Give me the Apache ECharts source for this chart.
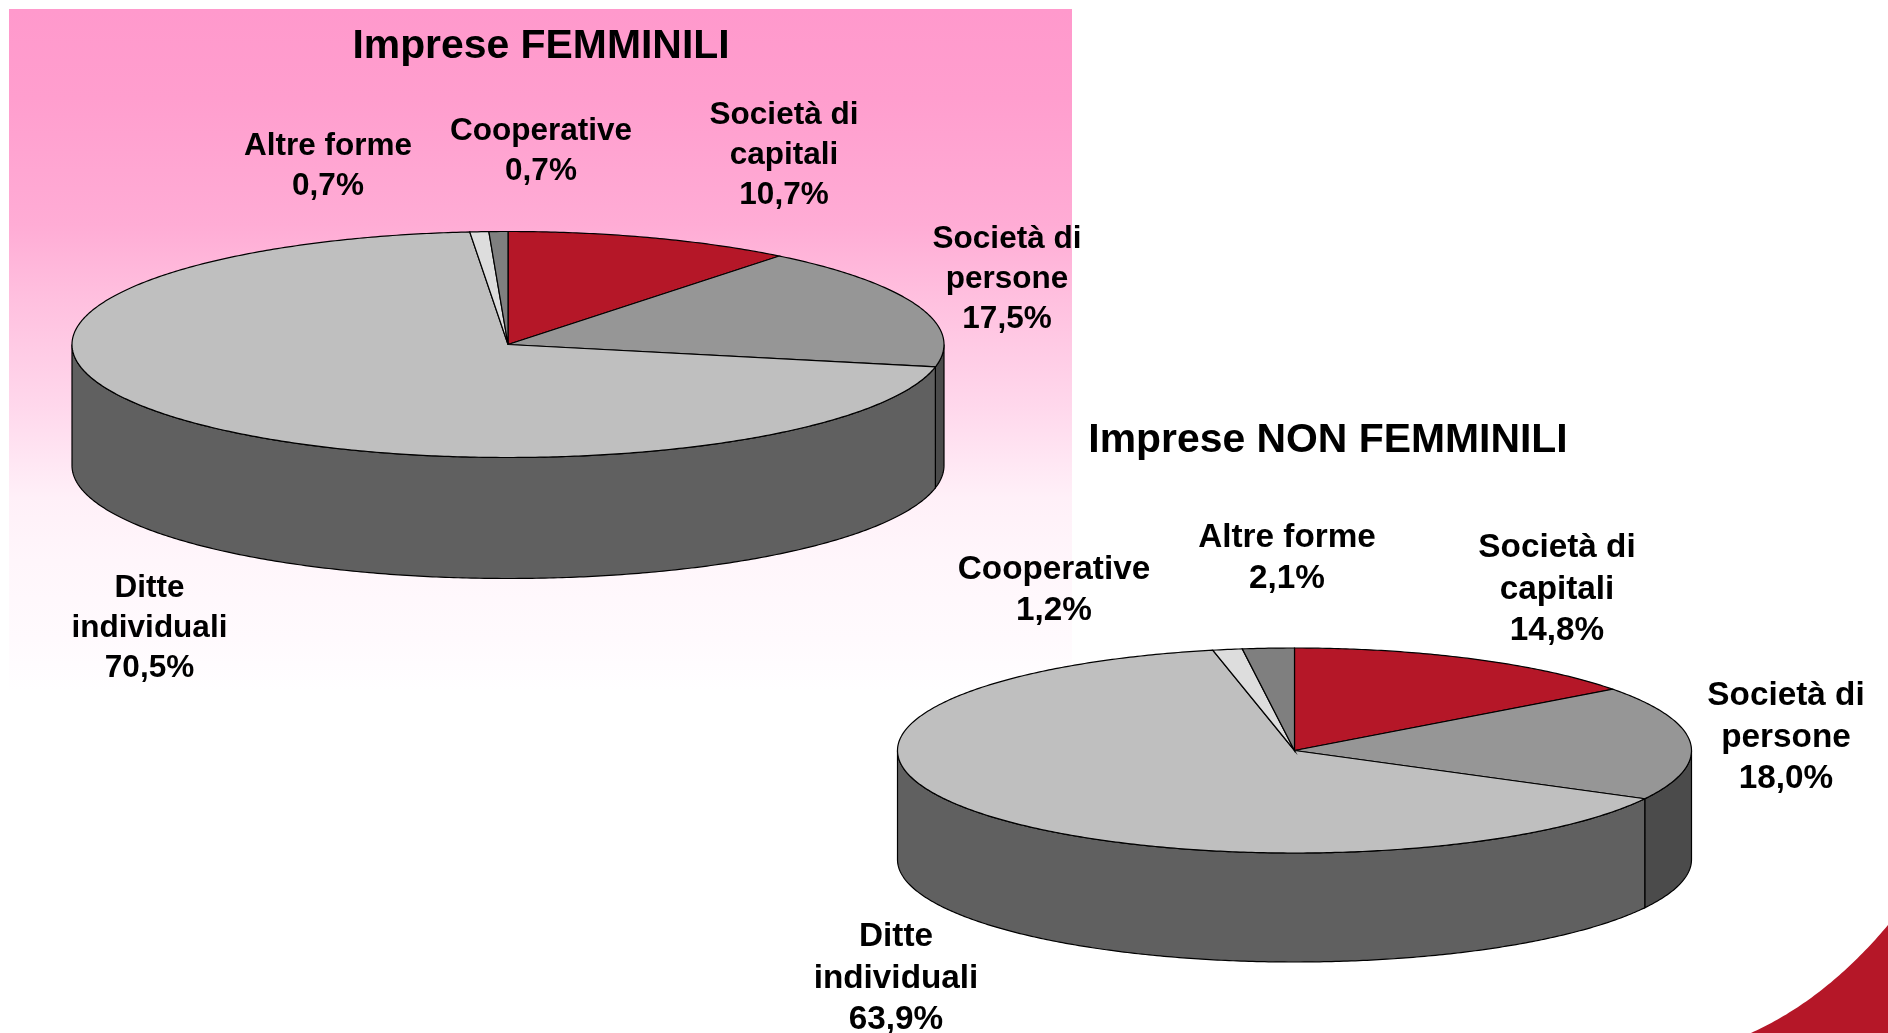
<!DOCTYPE html>
<html>
<head>
<meta charset="utf-8">
<title>Imprese femminili e non femminili</title>
<style>
  html, body { margin: 0; padding: 0; background: #fff; }
  #chart { width: 1888px; height: 1033px; }
</style>
<script src="https://cdn.jsdelivr.net/npm/echarts@6/dist/echarts.min.js"></script>
</head>
<body>
<div id="chart"></div>
<script>
// values, clockwise from 12 o'clock
const categories = ["Società di\ncapitali", "Società di\npersone", "Ditte\nindividuali", "Cooperative", "Altre forme"];
const valuesFemminili = [10.7, 17.5, 70.5, 0.7, 0.7];
const valuesNonFemminili = [14.8, 18.0, 63.9, 1.2, 2.1];
const titles = ["Imprese FEMMINILI", "Imprese NON FEMMINILI"];

const topColors = ["#B51728", "#969696", "#BFBFBF", "#DDDDDD", "#7F7F7F"];
const sideColors = ["#7A0F1B", "#4B4B4B", "#606060", "#8F8F8F", "#505050"];

// label centres, same order as categories
const labelsFemminili = [[784, 155.5], [1007, 279.5], [149.5, 628.5], [541, 151], [328, 166.5]];
const labelsNonFemminili = [[1557, 589.5], [1786, 737.5], [896, 978.5], [1054, 590.5], [1287, 558.5]];

const pieFemminili = { cx: 508, cy: 344.5, rx: 436, ry: 113, depth: 121, fontSize: 31.5, lineHeight: 40 };
const pieNonFemminili = { cx: 1294.5, cy: 750.5, rx: 397, ry: 102.5, depth: 109, fontSize: 33.3, lineHeight: 41.5 };

const chart = echarts.init(document.getElementById("chart"));

// angle in radians from 12 o'clock, clockwise
function pt(pie, a, down) {
  return [pie.cx + pie.rx * Math.sin(a), pie.cy - pie.ry * Math.cos(a) + (down || 0)];
}

function arc(pie, a0, a1, down) {
  const n = Math.max(2, Math.ceil(Math.abs(a1 - a0) / 0.01));
  const out = [];
  for (let i = 0; i <= n; i++) {
    out.push(pt(pie, a0 + (a1 - a0) * i / n, down));
  }
  return out;
}

function makeRenderItem(values, pie, labelPos) {
  const total = values.reduce((s, v) => s + v, 0);
  return function (params, api) {
    const i = params.dataIndex;
    let before = 0;
    for (let k = 0; k < i; k++) before += values[k];
    const a0 = before / total * Math.PI * 2;
    const a1 = (before + api.value(0)) / total * Math.PI * 2;
    const children = [];

    // front wall, only the part between 3 and 9 o'clock shows
    const s0 = Math.max(a0, Math.PI / 2);
    const s1 = Math.min(a1, Math.PI * 1.5);
    if (s1 > s0) {
      children.push({
        type: "polygon",
        shape: { points: arc(pie, s0, s1, 0).concat(arc(pie, s1, s0, pie.depth)) },
        style: { fill: sideColors[i], stroke: "#000", lineWidth: 1.2 }
      });
    }

    children.push({
      type: "polygon",
      z2: 5,
      shape: { points: [[pie.cx, pie.cy]].concat(arc(pie, a0, a1, 0)) },
      style: { fill: topColors[i], stroke: "#000", lineWidth: 1.2 }
    });

    children.push({
      type: "text",
      z2: 10,
      style: {
        text: categories[i] + "\n" + api.value(0).toFixed(1).replace(".", ",") + "%",
        x: labelPos[i][0],
        y: labelPos[i][1],
        align: "center",
        verticalAlign: "middle",
        fill: "#000",
        fontFamily: "Liberation Sans",
        fontWeight: "bold",
        fontSize: pie.fontSize,
        lineHeight: pie.lineHeight
      }
    });
    return { type: "group", children: children };
  };
}

// red corner of the slide
const cornerPoints = [];
for (let t = 0; t <= 1.0001; t += 0.02) {
  const u = 1 - t;
  cornerPoints.push([u * u * 1751 + 2 * u * t * 1826 + t * t * 1888, u * u * 1033 + 2 * u * t * 999 + t * t * 925]);
}
cornerPoints.push([1888, 1033]);

chart.setOption({
  animation: false,
  backgroundColor: "#fff",
  title: [
    { text: titles[0], left: 541, top: 26.5, textAlign: "center", padding: 0, textStyle: { fontFamily: "Liberation Sans", fontWeight: "bold", fontSize: 40.9, color: "#000" } },
    { text: titles[1], left: 1328, top: 420.5, textAlign: "center", padding: 0, textStyle: { fontFamily: "Liberation Sans", fontWeight: "bold", fontSize: 40.9, color: "#000" } }
  ],
  graphic: [
    {
      type: "rect",
      silent: true,
      z: 0,
      shape: { x: 9, y: 9, width: 1063, height: 681 },
      style: {
        fill: new echarts.graphic.LinearGradient(0, 0, 0, 1, [
          { offset: 0, color: "#FF99CC" },
          { offset: 0.13, color: "#FF9ECE" },
          { offset: 0.317, color: "#FFACD5" },
          { offset: 0.427, color: "#FFC0DF" },
          { offset: 0.586, color: "#FFD8EC" },
          { offset: 0.718, color: "#FFF0F8" },
          { offset: 0.81, color: "#FFF6FB" },
          { offset: 0.924, color: "#FFFAFD" },
          { offset: 1, color: "#FFFEFF" }
        ])
      }
    },
    {
      type: "polygon",
      silent: true,
      z: 0,
      shape: { points: cornerPoints },
      style: { fill: "#B51728" }
    }
  ],
  series: [
    {
      type: "custom",
      coordinateSystem: "none",
      silent: true,
      data: valuesFemminili.map((v) => [v]),
      renderItem: makeRenderItem(valuesFemminili, pieFemminili, labelsFemminili)
    },
    {
      type: "custom",
      coordinateSystem: "none",
      silent: true,
      data: valuesNonFemminili.map((v) => [v]),
      renderItem: makeRenderItem(valuesNonFemminili, pieNonFemminili, labelsNonFemminili)
    }
  ]
});
</script>
</body>
</html>
